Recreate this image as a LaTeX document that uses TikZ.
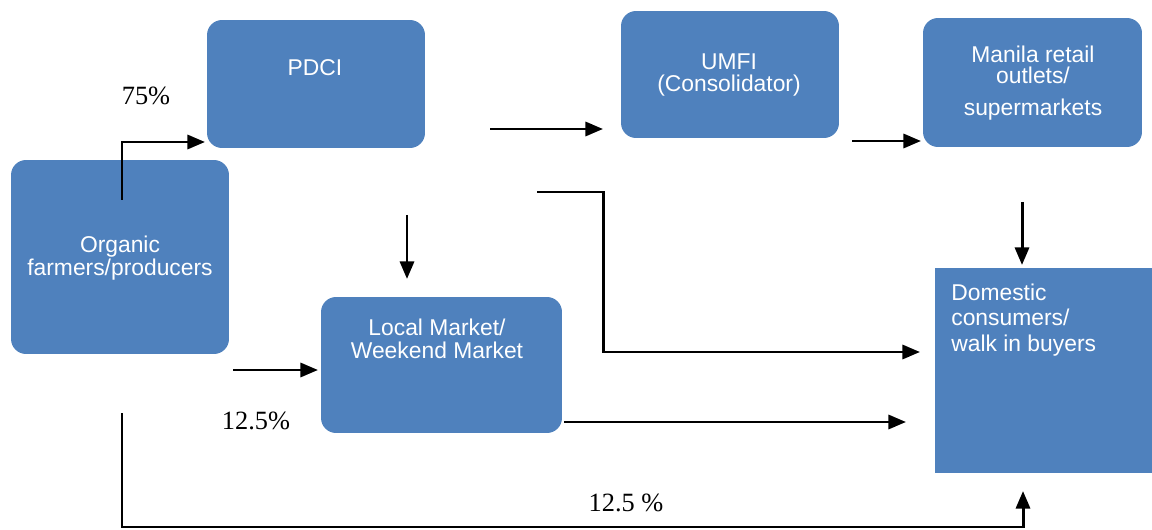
\documentclass[tikz,border=0pt]{standalone}
\usepackage{fontspec}
\setmainfont{Liberation Serif}
\newfontfamily\arialf{Liberation Sans}
\usetikzlibrary{arrows.meta}
\definecolor{boxblue}{HTML}{4F81BD}
\tikzset{
  box/.style={fill=boxblue, draw=none, rounded corners=0.3cm, inner sep=0pt},
  sqbox/.style={fill=boxblue, draw=none, inner sep=0pt},
  txt/.style={text=white, font=\arialf\fontsize{13}{13}\selectfont, align=center, inner sep=0pt},
  pct/.style={font=\fontsize{15}{18}\selectfont, inner sep=0pt},
  conn/.style={line width=1.7pt, -{Triangle[length=10pt,width=8pt]}}
}
\begin{document}
\begin{tikzpicture}[x=0.02cm,y=-0.02cm]
\useasboundingbox (0,0) rectangle (1152,530);
% boxes
\node[box, minimum width=4.36cm, minimum height=2.56cm] (pdci) at (316,84) {};
\node[box, minimum width=4.36cm, minimum height=2.54cm] (umfi) at (730,74.5) {};
\node[box, minimum width=4.38cm, minimum height=2.58cm] (manila) at (1032.5,82.5) {};
\node[box, minimum width=4.36cm, minimum height=3.88cm] (org) at (120,257) {};
\node[box, minimum width=4.82cm, minimum height=2.72cm] (local) at (441.5,365) {};
\node[sqbox, minimum width=4.34cm, minimum height=4.1cm] (dom) at (1043.5,370.5) {};
% texts
\node[txt] (tpdci) at (315,68) {PDCI};
\node[txt] (tumfi) at (729,75) {UMFI\\(Consolidator)};
\node[txt, font=\arialf\fontsize{13}{12}\selectfont] (tmanila) at (1033,83) {Manila retail\\outlets/\\[6pt]supermarkets};
\node[txt] (torg) at (120,258) {Organic\\farmers/producers};
\node[txt] (tlocal) at (437,339) {Local Market/\\Weekend Market};
\node[txt, align=left, anchor=west, font=\arialf\fontsize{13}{14.7}\selectfont] (tdom) at (951,320) {Domestic\\consumers/\\walk in buyers};
% percentages
\node[pct] (p75) at (146,96) {75\%};
\node[pct] (p125a) at (256,421) {12.5\%};
\node[pct] (p125b) at (626,503) {12.5 \%};
% connector end points
\coordinate (c1s) at (122,200);
\coordinate (c1m) at (122,142);
\coordinate (c1e) at (205,142);
\coordinate (c2s) at (490,129);
\coordinate (c2e) at (603,129);
\coordinate (c3s) at (852,141);
\coordinate (c3e) at (921,141);
\coordinate (c4s) at (1022,202);
\coordinate (c4e) at (1022,265);
\coordinate (c5s) at (407,215);
\coordinate (c5e) at (407,279);
\coordinate (c6s) at (537,192);
\coordinate (c6a) at (603,192);
\coordinate (c6b) at (603,352);
\coordinate (c6e) at (920,352);
\coordinate (c7s) at (233,370);
\coordinate (c7e) at (318,370);
\coordinate (c8s) at (564,422);
\coordinate (c8e) at (906,422);
\coordinate (c9s) at (122,413);
\coordinate (c9a) at (122,527);
\coordinate (c9b) at (1023,527);
\coordinate (c9e) at (1023,491);
% connectors
\draw[conn] (c1s) -- (c1m) -- (c1e);
\draw[conn] (c2s) -- (c2e);
\draw[conn] (c3s) -- (c3e);
\draw[conn] (c4s) -- (c4e);
\draw[conn] (c5s) -- (c5e);
\draw[conn] (c6s) -- (c6a) -- (c6b) -- (c6e);
\draw[conn] (c7s) -- (c7e);
\draw[conn] (c8s) -- (c8e);
\draw[conn] (c9s) -- (c9a) -- (c9b) -- (c9e);
\end{tikzpicture}
\end{document}
